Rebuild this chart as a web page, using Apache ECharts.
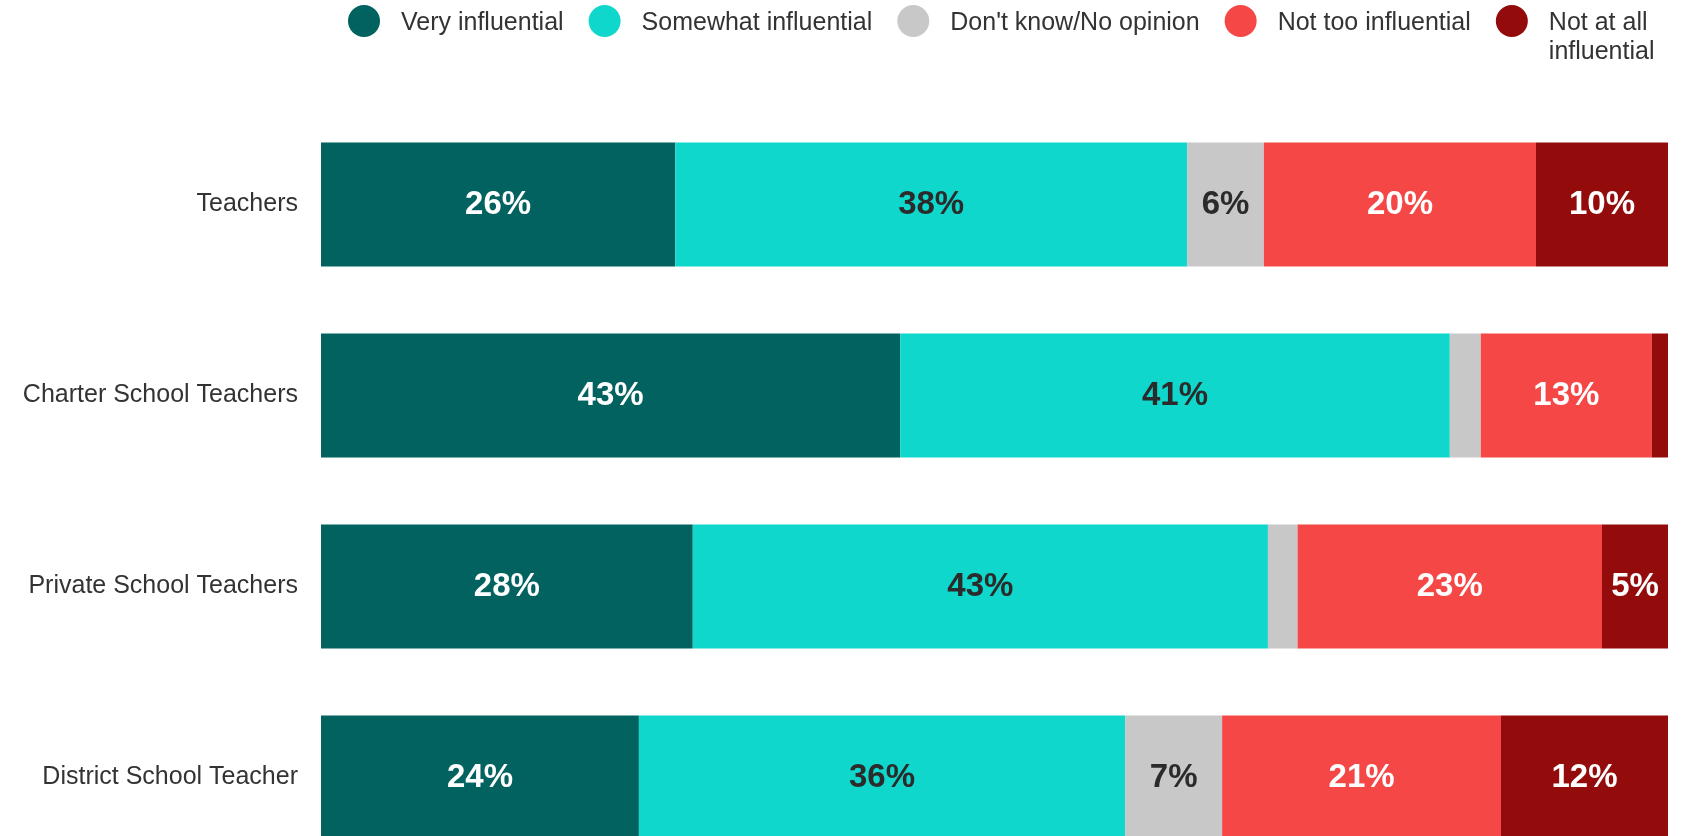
<!DOCTYPE html>
<html>
<head>
<meta charset="utf-8">
<script src="https://cdn.jsdelivr.net/npm/echarts@6/dist/echarts.min.js"></script>
<style>
  html, body { margin: 0; padding: 0; background: #fff; }
  #chart { width: 1681px; height: 836px; }
</style>
</head>
<body>
<div id="chart"></div>
<script>
// data (percent of respondents)
var categories = ['Teachers', 'Charter School Teachers', 'Private School Teachers', 'District School Teacher'];
var seriesNames = ['Very influential', 'Somewhat influential', "Don't know/No opinion", 'Not too influential', 'Not at all\ninfluential'];
var veryInfluential = [26.3, 43.0, 27.6, 23.6];
var somewhatInfluential = [38.0, 40.8, 42.7, 36.1];
var dontKnow = [5.7, 2.3, 2.2, 7.2];
var notTooInfluential = [20.2, 12.7, 22.6, 20.7];
var notAtAllInfluential = [9.8, 1.2, 4.9, 12.4];

var seriesData = [veryInfluential, somewhatInfluential, dontKnow, notTooInfluential, notAtAllInfluential];
var colors = ['#01625f', '#0fd7cc', '#c8c8c8', '#f44746', '#930b0b'];
var labelColors = ['#ffffff', '#2b2b2b', '#2b2b2b', '#ffffff', '#ffffff'];
var fontFamily = "'Liberation Sans', Arial, Helvetica, sans-serif";

var myChart = echarts.init(document.getElementById('chart'));

var series = [];
for (var i = 0; i < seriesNames.length; i++) {
    series.push({
        name: seriesNames[i],
        type: 'bar',
        stack: 'total',
        data: seriesData[i],
        barCategoryGap: '35%',
        itemStyle: { color: colors[i] },
        emphasis: { disabled: true },
        label: {
            show: true,
            position: 'inside',
            color: labelColors[i],
            fontSize: 33,
            fontWeight: 'bold',
            fontFamily: fontFamily,
            formatter: function (p) {
                // small slices have no label
                return p.value < 3 ? '' : Math.round(p.value) + '%';
            }
        }
    });
}

var legendData = [];
for (var j = 0; j < seriesNames.length; j++) {
    if (j === seriesNames.length - 1) {
        // two-line name: top padding pushes the 2nd line below the row
        legendData.push({
            name: seriesNames[j],
            textStyle: { padding: [34, 0, 0, 16] }
        });
    } else {
        legendData.push({ name: seriesNames[j] });
    }
}

var option = {
    backgroundColor: '#ffffff',
    animation: false,
    legend: {
        data: legendData,
        left: 343,
        top: -30,
        icon: 'circle',
        itemWidth: 32,
        itemHeight: 32,
        itemGap: 25,
        selectedMode: false,
        textStyle: {
            color: '#333333',
            fontSize: 25,
            lineHeight: 29,
            fontFamily: fontFamily,
            padding: [5, 0, 0, 16],
            // rich layout so that padding also works with middle alignment
            rich: { n: { fontSize: 25, lineHeight: 29, color: '#333333', fontFamily: fontFamily } }
        }
    },
    grid: {
        left: 321,
        top: 109,
        width: 1347,
        height: 764,
        outerBoundsMode: 'none'
    },
    xAxis: {
        type: 'value',
        min: 0,
        max: 100,
        show: false
    },
    yAxis: {
        type: 'category',
        data: categories,
        inverse: true,
        axisLine: { show: false },
        axisTick: { show: false },
        axisLabel: {
            color: '#333333',
            fontSize: 25,
            fontFamily: fontFamily,
            margin: 23
        }
    },
    series: series
};

myChart.setOption(option);
</script>
</body>
</html>
